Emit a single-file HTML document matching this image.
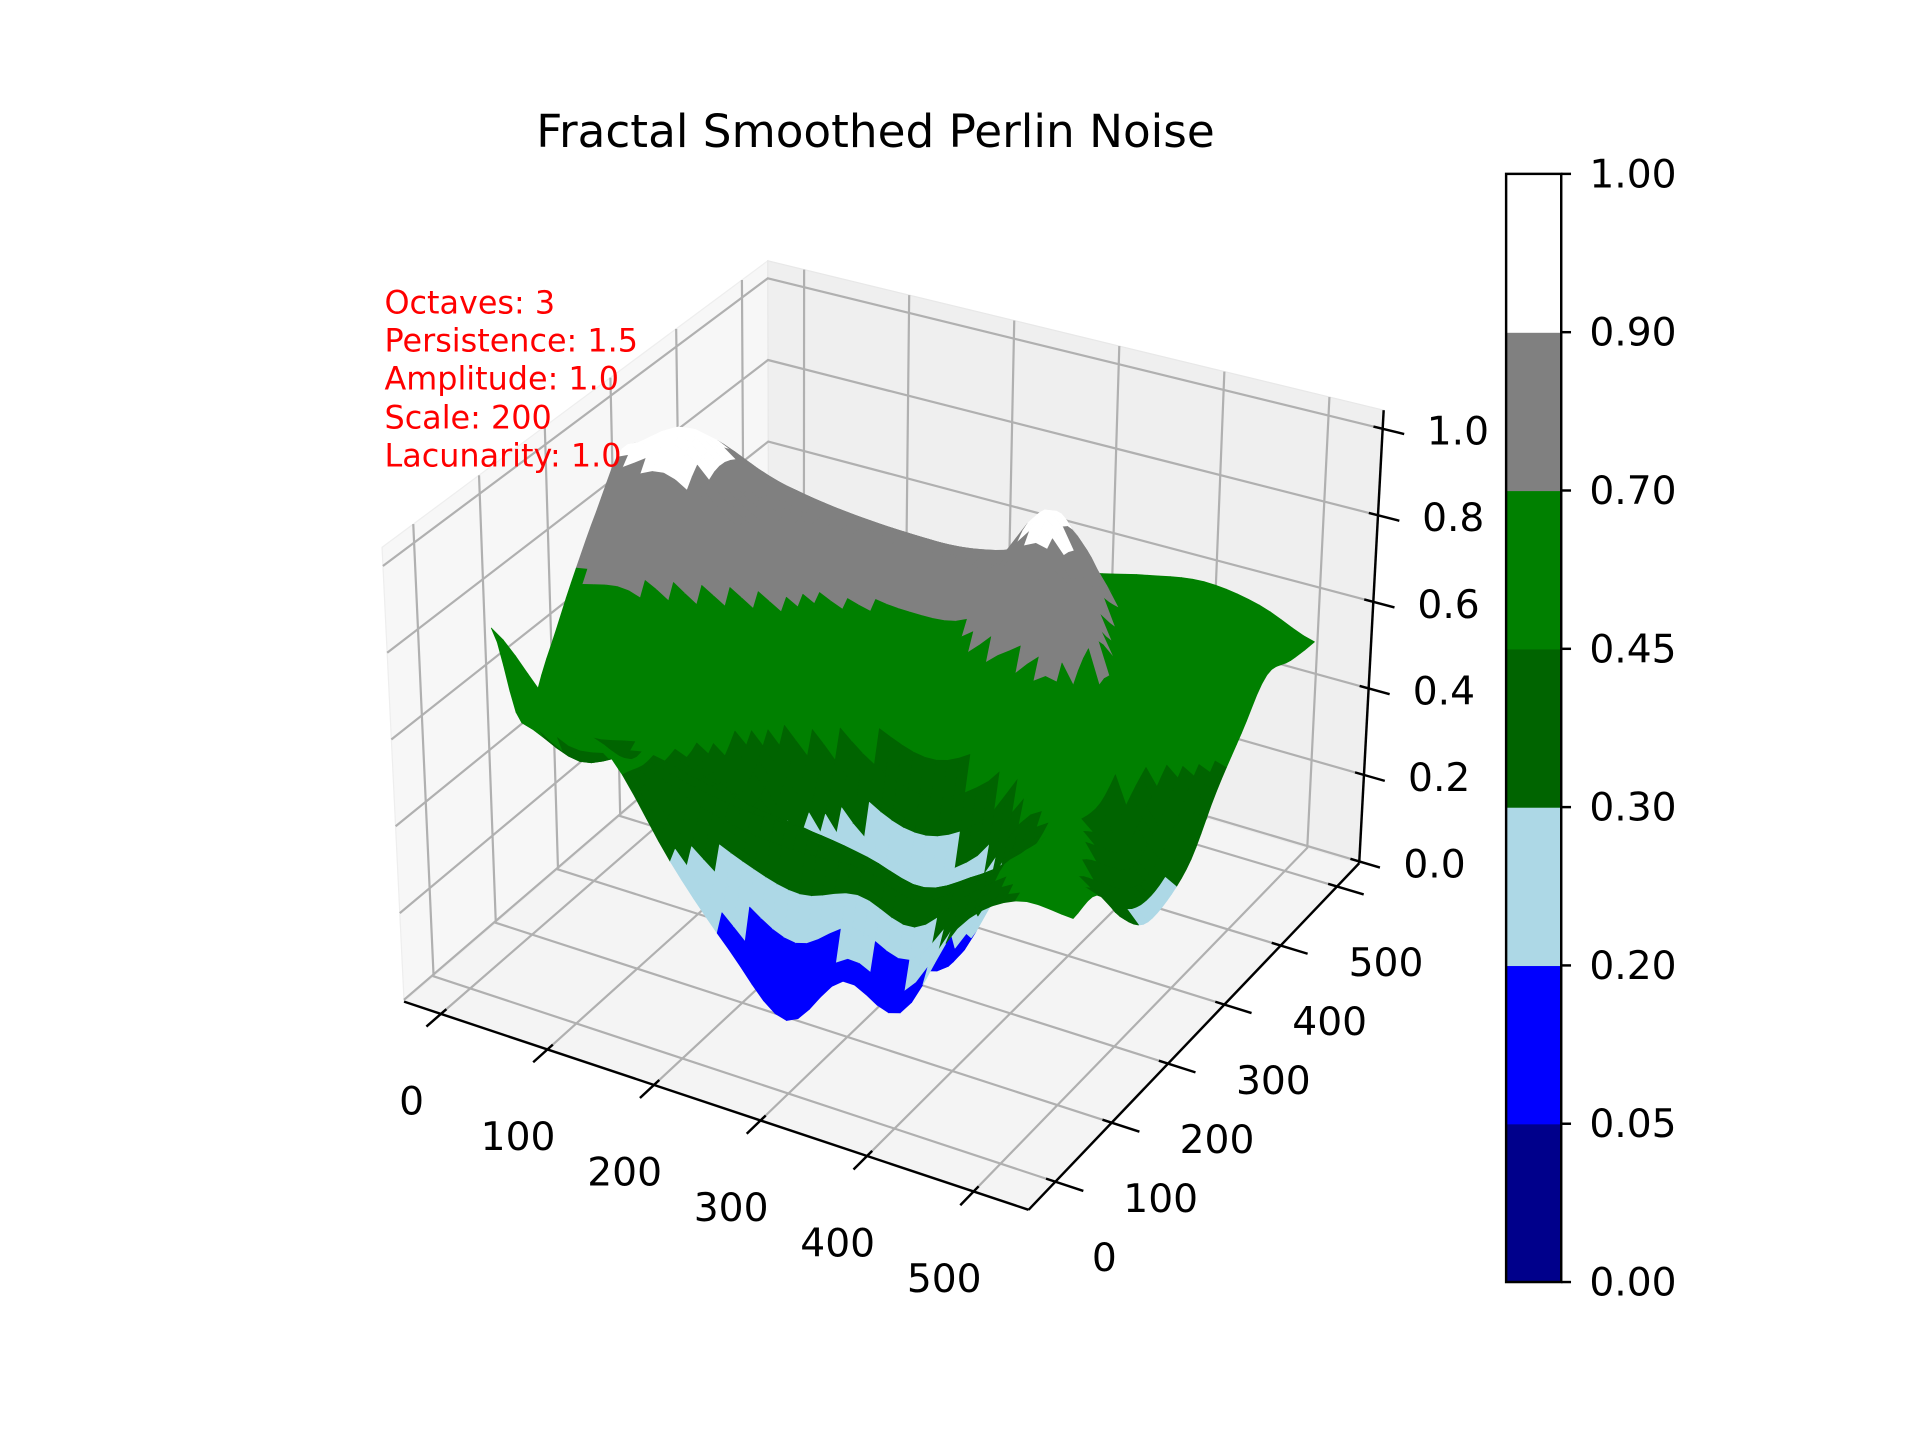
<!DOCTYPE html>
<html><head><meta charset="utf-8">
<style>
html,body{margin:0;padding:0;background:#fff;}
svg{display:block;font-family:"DejaVu Sans","Liberation Sans",sans-serif;}
</style></head>
<body>
<svg id="chart" width="1920" height="1440" viewBox="0 0 1568 1176" xmlns="http://www.w3.org/2000/svg">
<rect width="1568" height="1176" fill="#fff"/>
<g id="panes"></g>
<g id="grid"></g>
<g id="surface"></g>
<g id="axes"></g>
<text x="715" y="120" font-size="37" text-anchor="middle" fill="#000">Fractal Smoothed Perlin Noise</text>
<g fill="#ff0000" font-size="26">
<text x="314" y="256">Octaves: 3</text>
<text x="314" y="287">Persistence: 1.5</text>
<text x="314" y="318">Amplitude: 1.0</text>
<text x="314" y="350">Scale: 200</text>
<text x="314" y="381">Lacunarity: 1.0</text>
</g>
<g id="colorbar"></g>
</svg>
<script>
const xs = [0,50,100,150,200,250,300,350,400,450,500];
const ys = [0,50,100,150,200,250,300,350,400,450,500];
const zRow0   = [0.72,0.58,0.50,0.30,0.14,0.02,0.15,0.12,0.35,0.45,0.45];
const zRow50  = [0.45,0.40,0.45,0.42,0.40,0.40,0.38,0.35,0.42,0.50,0.45];
const zRow100 = [0.55,0.55,0.50,0.42,0.30,0.15,0.10,0.12,0.35,0.50,0.35];
const zRow150 = [0.68,0.70,0.62,0.52,0.38,0.22,0.18,0.25,0.45,0.45,0.28];
const zRow200 = [0.80,0.85,0.78,0.70,0.62,0.55,0.52,0.60,0.70,0.40,0.28];
const zRow250 = [0.90,0.97,0.85,0.78,0.72,0.70,0.72,0.85,0.80,0.45,0.32];
const zRow300 = [0.85,0.92,0.85,0.80,0.78,0.76,0.80,0.95,0.70,0.50,0.42];
const zRow350 = [0.75,0.80,0.78,0.76,0.75,0.75,0.78,0.85,0.62,0.55,0.50];
const zRow400 = [0.62,0.65,0.66,0.66,0.66,0.66,0.68,0.68,0.62,0.60,0.58];
const zRow450 = [0.52,0.56,0.58,0.58,0.58,0.58,0.60,0.62,0.64,0.62,0.56];
const zRow500 = [0.50,0.52,0.52,0.52,0.54,0.55,0.57,0.60,0.62,0.60,0.55];
const zRows = [zRow0,zRow50,zRow100,zRow150,zRow200,zRow250,zRow300,zRow350,zRow400,zRow450,zRow500];
const levels = [0,0.05,0.2,0.3,0.45,0.7,0.9,1.0];
const levelColors = ["#00008b","#0000ff","#add8e6","#006400","#008000","#808080","#ffffff"];
const xTicks = [0,100,200,300,400,500];
const yTicks = [0,100,200,300,400,500];
const zTicks = [0.0,0.2,0.4,0.6,0.8,1.0];
const zTickLabels = ["0.0","0.2","0.4","0.6","0.8","1.0"];
const cbTickLabels = ["0.00","0.05","0.20","0.30","0.45","0.70","0.90","1.00"];

const NS="http://www.w3.org/2000/svg";
const B={LF:[330,818],RF:[840,988],RB:[1110,705],LB:[628,562]};
const T={LF:[312,447],RF:[842,596],RB:[1130,335],LB:[627,213]};
function bil(C,u,v){
  const a=[C.LF[0]+(C.RF[0]-C.LF[0])*u, C.LF[1]+(C.RF[1]-C.LF[1])*u];
  const b=[C.LB[0]+(C.RB[0]-C.LB[0])*u, C.LB[1]+(C.RB[1]-C.LB[1])*u];
  return [a[0]+(b[0]-a[0])*v, a[1]+(b[1]-a[1])*v];
}
function box(u,v,w){const b=bil(B,u,v),t=bil(T,u,v);return [b[0]+(t[0]-b[0])*w,b[1]+(t[1]-b[1])*w];}
function tickU(x){return 0.059+x*0.001706;}
function tickV(y){return 0.081+y*0.001704;}
function tickW(z){return 0.004+z*0.955;}
function surfU(x){return 0.03+x*0.00184;}
function surfV(y){return 0.22+y*0.0014;}
function el(tag,attrs,parent){const e=document.createElementNS(NS,tag);for(const k in attrs)e.setAttribute(k,attrs[k]);parent.appendChild(e);return e;}
function pts(a){return a.map(p=>p[0].toFixed(1)+","+p[1].toFixed(1)).join(" ");}

const panes=document.getElementById("panes");
let p=el("polygon",{points:pts([box(0,0,0),box(0,1,0),box(0,1,1),box(0,0,1)]),fill:"#f7f7f7",stroke:"#eeeeee"},panes);


p=el("polygon",{points:pts([box(0,1,0),box(1,1,0),box(1,1,1),box(0,1,1)]),fill:"#efefef",stroke:"#e8e8e8"},panes);


p=el("polygon",{points:pts([box(0,0,0),box(1,0,0),box(1,1,0),box(0,1,0)]),fill:"#f4f4f4",stroke:"#eeeeee"},panes);



const grid=document.getElementById("grid");
const gs={stroke:"#b0b0b0","stroke-width":1.8,fill:"none"};
xTicks.forEach(x=>{const u=tickU(x);
  const g=el("polyline",Object.assign({points:pts([box(u,0,0),box(u,1,0),box(u,1,1)])},gs),grid);
  
  });
yTicks.forEach(y=>{const v=tickV(y);
  const g=el("polyline",Object.assign({points:pts([box(1,v,0),box(0,v,0),box(0,v,1)])},gs),grid);
  
  });
zTicks.forEach(z=>{const w=tickW(z);
  const g=el("polyline",Object.assign({points:pts([box(0,0,w),box(0,1,w),box(1,1,w)])},gs),grid);
  
  });

function cr(p0,p1,p2,p3,t){return 0.5*((2*p1)+(-p0+p2)*t+(2*p0-5*p1+4*p2-p3)*t*t+(-p0+3*p1-3*p2+p3)*t*t*t);}
function zAt(fi,fj){
  const n=zRows.length-1,m=zRows[0].length-1;
  const i=Math.min(Math.floor(fi),n-1),j=Math.min(Math.floor(fj),m-1);
  const ti=fi-i,tj=fj-j;const cl=(a,mx)=>Math.max(0,Math.min(mx,a));
  const r=[];
  for(let di=-1;di<=2;di++){const row=zRows[cl(i+di,n)];
    r.push(cr(row[cl(j-1,m)],row[j],row[cl(j+1,m)],row[cl(j+2,m)],tj));}
  return cr(r[0],r[1],r[2],r[3],ti);
}
function colorFor(z){for(let k=levelColors.length-1;k>=0;k--){if(z>=levels[k])return levelColors[k];}return levelColors[0];}
const surf=document.getElementById("surface");
const S=5;const NI=(ys.length-1)*S,NJ=(xs.length-1)*S;
const P=[],Zg=[];
for(let a=0;a<=NI;a++){P.push([]);Zg.push([]);
  for(let b=0;b<=NJ;b++){const fi=a/S,fj=b/S;const z=zAt(fi,fj);
    const y=ys[0]+(ys[ys.length-1]-ys[0])*fi/(ys.length-1);
    const x=xs[0]+(xs[xs.length-1]-xs[0])*fj/(xs.length-1);
    Zg[a].push(z);P[a].push(box(surfU(x),surfV(y),tickW(z)));}}
const quads=[];
for(let a=0;a<NI;a++)for(let b=0;b<NJ;b++)quads.push([a,b]);
quads.sort((q1,q2)=>((q2[0]-q2[1])-(q1[0]-q1[1])));
quads.forEach(([a,b])=>{
  const zc=(Zg[a][b]+Zg[a+1][b]+Zg[a][b+1]+Zg[a+1][b+1])/4;const c=colorFor(zc);
  const q=el("polygon",{points:pts([P[a][b],P[a][b+1],P[a+1][b+1],P[a+1][b]]),fill:c,stroke:c,"stroke-width":0.6,"stroke-linejoin":"round"},surf);
  
  
});

const ax=document.getElementById("axes");
let l=el("line",{x1:box(0,0,0)[0],y1:box(0,0,0)[1],x2:box(1,0,0)[0],y2:box(1,0,0)[1],stroke:"#000","stroke-width":2},ax);


l=el("line",{x1:box(1,0,0)[0],y1:box(1,0,0)[1],x2:box(1,1,0)[0],y2:box(1,1,0)[1],stroke:"#000","stroke-width":2},ax);


l=el("line",{x1:box(1,1,0)[0],y1:box(1,1,0)[1],x2:box(1,1,1)[0],y2:box(1,1,1)[1],stroke:"#000","stroke-width":2},ax);


xTicks.forEach(x=>{const u=tickU(x);const a=box(u,-0.04,0),b=box(u,0.015,0),c=box(u,0,0);
  const t=el("line",{x1:a[0],y1:a[1],x2:b[0],y2:b[1],stroke:"#000","stroke-width":2},ax);
  
  
  const tx=el("text",{x:c[0]-24,y:c[1]+82,"font-size":32,"text-anchor":"middle",fill:"#000"},ax);tx.textContent=String(x);
  
  });
yTicks.forEach(y=>{const v=tickV(y);const a=box(0.985,v,0),b=box(1.045,v,0),c=box(1,v,0);
  const t=el("line",{x1:a[0],y1:a[1],x2:b[0],y2:b[1],stroke:"#000","stroke-width":2},ax);
  
  
  const tx=el("text",{x:c[0]+40,y:c[1]+73,"font-size":32,"text-anchor":"middle",fill:"#000"},ax);tx.textContent=String(y);
  
  });
zTicks.forEach((z,i)=>{const w=tickW(z);const a=box(0.985,1,w),b=box(1.035,1,w),c=box(1,1,w);
  const t=el("line",{x1:a[0],y1:a[1],x2:b[0],y2:b[1],stroke:"#000","stroke-width":2},ax);
  
  
  const tx=el("text",{x:c[0]+36,y:c[1]+13,"font-size":32,"text-anchor":"start",fill:"#000"},ax);tx.textContent=zTickLabels[i];
  
  });

const cb=document.getElementById("colorbar");
const cbX=1230,cbW=45,cbTop=142,cbBot=1047;const nSeg=levelColors.length;const segH=(cbBot-cbTop)/nSeg;
function cbY(k){return cbBot-k*segH;}
levelColors.forEach((c,k)=>{const r=el("rect",{x:cbX,y:cbY(k+1),width:cbW,height:segH+0.5,fill:c},cb);
  
  });
const fr=el("rect",{x:cbX,y:cbTop,width:cbW,height:cbBot-cbTop,fill:"none",stroke:"#000","stroke-width":2},cb);


cbTickLabels.forEach((s,k)=>{const y=cbY(k);
  const t=el("line",{x1:cbX+cbW,y1:y,x2:cbX+cbW+8,y2:y,stroke:"#000","stroke-width":2},cb);
  
  
  const tx=el("text",{x:1298,y:y+11,"font-size":32,fill:"#000"},cb);tx.textContent=s;
  
  });
</script>
</body></html>
